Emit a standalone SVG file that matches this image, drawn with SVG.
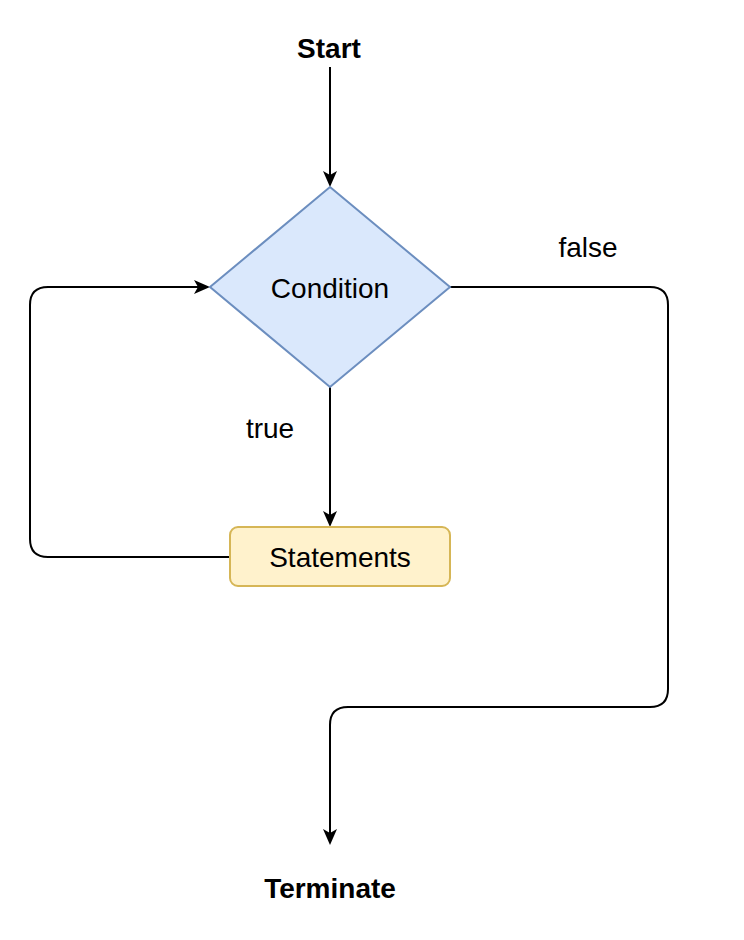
<svg xmlns="http://www.w3.org/2000/svg" width="744" height="940" viewBox="0 0 744 940">
<style>
text{font-family:"Liberation Sans",Arial,Helvetica,sans-serif;font-size:28px;fill:#000;text-anchor:middle}
.b{font-weight:bold}
.edge{fill:none;stroke:#000;stroke-width:2}
</style>
<defs>
<marker id="arr" viewBox="0 0 16 14" refX="8" refY="7" markerWidth="16" markerHeight="14" markerUnits="userSpaceOnUse" orient="auto">
<path d="M0,0 L16,7 L0,14 L4,7 z" fill="#000"/>
</marker>
</defs>
<rect width="744" height="940" fill="#fff"/>
<g id="connectors">
<path class="edge" d="M330,67 V179" marker-end="url(#arr)"/>
<path class="edge" d="M330,387 V519" marker-end="url(#arr)"/>
<path class="edge" d="M230,557 H48 Q30,557 30,539 V305 Q30,287 48,287 H202" marker-end="url(#arr)"/>
<path class="edge" d="M450,287 H650 Q668,287 668,305 V689 Q668,707 650,707 H348 Q330,707 330,725 V837" marker-end="url(#arr)"/>
<text x="270" y="438">true</text>
<text x="588" y="257">false</text>
</g>
<g id="start"><text class="b" x="329" y="58">Start</text></g>
<g id="condition">
<polygon points="330,187 450,287 330,387 210,287" fill="#dae8fc" stroke="#6c8ebf" stroke-width="2"/>
<text x="330" y="298">Condition</text>
</g>
<g id="statements">
<rect x="230" y="527" width="220" height="59" rx="8" fill="#fff2cc" stroke="#d6b656" stroke-width="2"/>
<text x="340" y="567">Statements</text>
</g>
<g id="terminate"><text class="b" x="330" y="898">Terminate</text></g>
</svg>
